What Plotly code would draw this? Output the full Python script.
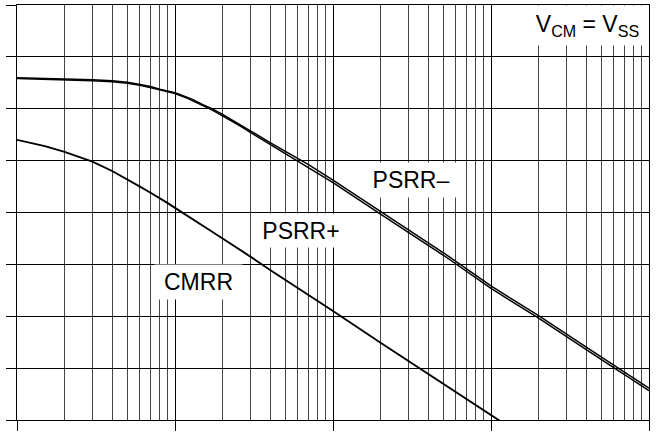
import plotly.graph_objects as go

# Frequency (Hz)
freq = [10, 15, 20, 25, 30, 40, 50, 60, 70, 80, 90, 100, 120, 130, 150, 170, 200, 250, 300,
        400, 500, 700, 1000, 2000, 5000, 10000, 20000, 50000, 100000]

# Rejection ratios (dB)
psrr_minus = [85.98, 85.88, 85.78, 85.68, 85.58, 85.38, 85.09, 84.69, 84.3, 83.76, 83.42,
              83.08, 82.19, 81.75, 80.8, 80.07, 78.93, 77.24, 75.75, 73.46, 71.78, 69.22,
              66.22, 60.13, 52.24, 45.84, 40.14, 32.14, 26.14]
psrr_plus = [85.82, 85.72, 85.62, 85.52, 85.42, 85.22, 84.91, 84.51, 84.1, 83.64, 83.28,
             82.92, 82.01, 81.55, 80.6, 79.83, 78.67, 76.96, 75.45, 73.14, 71.42, 68.78,
             65.78, 59.67, 51.76, 45.36, 39.66, 31.66, 25.66]
cmrr = [74.0, 72.8, 71.7, 70.7, 69.8, 68.0, 66.4, 65.0, 63.8, 62.8, 61.8, 60.9, 59.4, 58.7,
        57.5, 56.4, 55.0, 53.1, 51.5, 48.9, 47.0, 44.1, 41.0, 34.9, 27.0, 21.0, 15.0, 7.0, 1.0]

labels = ["PSRR\u2013", "PSRR+", "CMRR", "V<sub>CM</sub> = V<sub>SS</sub>"]

fig = go.Figure()
fig.add_trace(go.Scatter(x=freq, y=psrr_minus, mode="lines", line=dict(color="black", width=1.5),
                         showlegend=False))
fig.add_trace(go.Scatter(x=freq, y=psrr_plus, mode="lines", line=dict(color="black", width=1.5),
                         showlegend=False))
fig.add_trace(go.Scatter(x=freq, y=cmrr, mode="lines", line=dict(color="black", width=1.9),
                         showlegend=False))

font = dict(family="Liberation Sans, Arial, sans-serif", size=23, color="black")
ann = [
    (labels[0], 0.623, 0.578, 100, 34),
    (labels[1], 0.4495, 0.4566, 92, 33),
    (labels[2], 0.2877, 0.3325, 87, 34),
    (labels[3], 0.903, 0.9506, 121, 39),
]
for t, x, y, w, h in ann:
    fig.add_annotation(text=t, x=x, y=y, xref="paper", yref="paper", xanchor="center",
                       yanchor="middle", showarrow=False, bgcolor="white", borderpad=0,
                       width=w, height=h, align="center", valign="middle", font=font)

fig.update_xaxes(type="log", range=[1, 5], showticklabels=False, ticks="outside", ticklen=10,
                 tickcolor="black", tickwidth=1, dtick=1, showgrid=True, gridcolor="black",
                 gridwidth=1, showline=True, linecolor="black", linewidth=1, mirror=True,
                 zeroline=False, automargin=False,
                 minor=dict(dtick="D1", showgrid=True, gridcolor="#444", gridwidth=1, ticks=""))
fig.update_yaxes(range=[20, 100], dtick=10, showticklabels=False, ticks="outside", ticklen=10,
                 tickcolor="black", tickwidth=1, showgrid=True, gridcolor="black", gridwidth=1,
                 showline=True, linecolor="black", linewidth=1, mirror=True, zeroline=False,
                 automargin=False)

fig.update_layout(width=660, height=432, margin=dict(l=17, r=11, t=5, b=12, autoexpand=False),
                  paper_bgcolor="white", plot_bgcolor="white", font=font)

fig.write_html("out.html", config={"displayModeBar": False},
               post_script="document.body.style.margin='0';")
